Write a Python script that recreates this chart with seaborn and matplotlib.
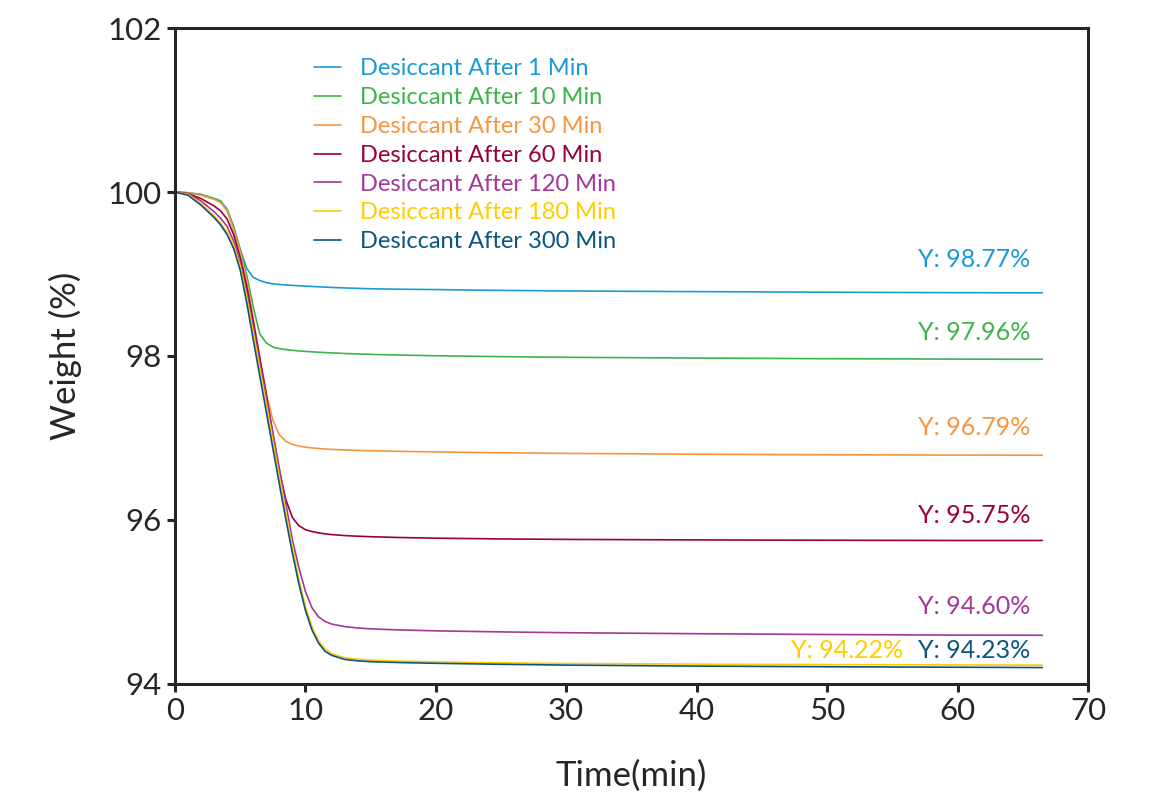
import numpy as np
import pandas as pd
import matplotlib
matplotlib.use("Agg")
import matplotlib.pyplot as plt
import seaborn as sns

# TGA curves of desiccant samples exposed for different times
time_min = [0, 1, 2, 3, 3.5, 4, 4.5, 5, 5.5, 6, 6.5, 7, 7.5, 8, 8.5, 9, 9.5, 10,
            10.5, 11, 11.5, 12, 13, 14, 15, 17, 20, 25, 30, 40, 50, 60, 66.5]

w_1min = [100, 99.99, 99.97, 99.92, 99.89, 99.79, 99.58, 99.30, 99.07, 98.96, 98.92, 98.895, 98.88, 98.872,
          98.866, 98.861, 98.856, 98.852, 98.848, 98.844, 98.84, 98.836, 98.83, 98.825, 98.82, 98.815, 98.81,
          98.80, 98.793, 98.785, 98.778, 98.772, 98.77]
w_10min = [100, 99.99, 99.97, 99.92, 99.89, 99.78, 99.56, 99.30, 98.99, 98.60, 98.27, 98.16, 98.11, 98.09,
           98.078, 98.069, 98.062, 98.056, 98.051, 98.046, 98.042, 98.038, 98.031, 98.025, 98.02, 98.012, 98.003,
           97.992, 97.984, 97.975, 97.967, 97.962, 97.96]
w_30min = [100, 99.99, 99.96, 99.91, 99.87, 99.77, 99.54, 99.27, 98.93, 98.46, 97.98, 97.55, 97.22, 97.04,
           96.96, 96.922, 96.902, 96.889, 96.879, 96.872, 96.866, 96.861, 96.854, 96.849, 96.845, 96.838, 96.83,
           96.82, 96.812, 96.802, 96.796, 96.791, 96.79]
w_60min = [100, 99.98, 99.92, 99.83, 99.77, 99.67, 99.48, 99.20, 98.85, 98.42, 97.98, 97.53, 97.05, 96.60,
           96.25, 96.03, 95.93, 95.882, 95.859, 95.843, 95.831, 95.822, 95.81, 95.802, 95.796, 95.787, 95.778,
           95.769, 95.763, 95.757, 95.753, 95.75, 95.75]
w_120min = [100, 99.98, 99.89, 99.76, 99.68, 99.58, 99.40, 99.13, 98.77, 98.36, 97.93, 97.50, 97.07, 96.63,
            96.20, 95.76, 95.42, 95.13, 94.93, 94.82, 94.763, 94.731, 94.70, 94.683, 94.672, 94.66, 94.648,
            94.635, 94.625, 94.613, 94.603, 94.596, 94.594]
w_180min = [100, 99.97, 99.86, 99.71, 99.62, 99.51, 99.35, 99.10, 98.72, 98.29, 97.85, 97.41, 96.97, 96.53,
            96.09, 95.67, 95.28, 94.95, 94.70, 94.53, 94.43, 94.37, 94.32, 94.302, 94.292, 94.28, 94.27,
            94.258, 94.25, 94.242, 94.236, 94.232, 94.23]
w_300min = [100, 99.96, 99.84, 99.69, 99.60, 99.48, 99.31, 99.05, 98.65, 98.20, 97.76, 97.32, 96.88, 96.44,
            96.01, 95.60, 95.22, 94.90, 94.66, 94.50, 94.40, 94.35, 94.30, 94.282, 94.272, 94.262, 94.252,
            94.24, 94.23, 94.218, 94.21, 94.204, 94.20]

labels = ["Desiccant After 1 Min", "Desiccant After 10 Min", "Desiccant After 30 Min",
          "Desiccant After 60 Min", "Desiccant After 120 Min", "Desiccant After 180 Min",
          "Desiccant After 300 Min"]
colors = ["#1b9ad6", "#3cb44a", "#f7963f", "#9b0038", "#a2399a", "#ffcc00", "#0b5581"]
final_text = ["Y: 98.77%", "Y: 97.96%", "Y: 96.79%", "Y: 95.75%", "Y: 94.60%", "Y: 94.22%", "Y: 94.23%"]

series = [w_1min, w_10min, w_30min, w_60min, w_120min, w_180min, w_300min]
df = pd.concat([pd.DataFrame({"Time": time_min, "Weight": w, "Sample": lab})
                for w, lab in zip(series, labels)], ignore_index=True)

sns.set_style("ticks")
plt.rcParams["font.family"] = ["Lato", "DejaVu Sans"]

fig = plt.figure(figsize=(11.61, 8.10), dpi=100)
ax = fig.add_axes([0.1507, 0.1556, 0.7864, 0.8098])

sns.lineplot(data=df, x="Time", y="Weight", hue="Sample", palette=colors,
             linewidth=1.2, ax=ax, sort=False)

# annotation text for final values
label_pos = [(65.6, 99.18), (65.6, 98.29), (65.6, 97.13), (65.6, 96.06),
             (65.6, 94.95), (55.8, 94.41), (65.6, 94.41)]
for (x, y), txt, c in zip(label_pos, final_text, colors):
    ax.text(x, y, txt, color=c, fontsize=18, ha="right", va="center")

ax.set_xlim(0, 70)
ax.set_ylim(94, 102)
ax.set_xticks(range(0, 71, 10))
ax.set_yticks([94, 96, 98, 100, 102])
ax.set_xlabel("Time(min)", fontsize=25, labelpad=25)
ax.set_ylabel("Weight (%)", fontsize=25, labelpad=18)
ax.tick_params(labelsize=22.5, width=2.2, length=6, direction="out")
for sp in ax.spines.values():
    sp.set_linewidth(2.2)
    sp.set_visible(True)

leg = ax.legend(loc="upper left", bbox_to_anchor=(0.129, 0.986), frameon=False,
                fontsize=17, labelcolor="linecolor", handlelength=1.15,
                handletextpad=0.78, labelspacing=0.33)
for h in leg.get_lines():
    h.set_linewidth(1.2)

fig.savefig("out.png", dpi=100)
